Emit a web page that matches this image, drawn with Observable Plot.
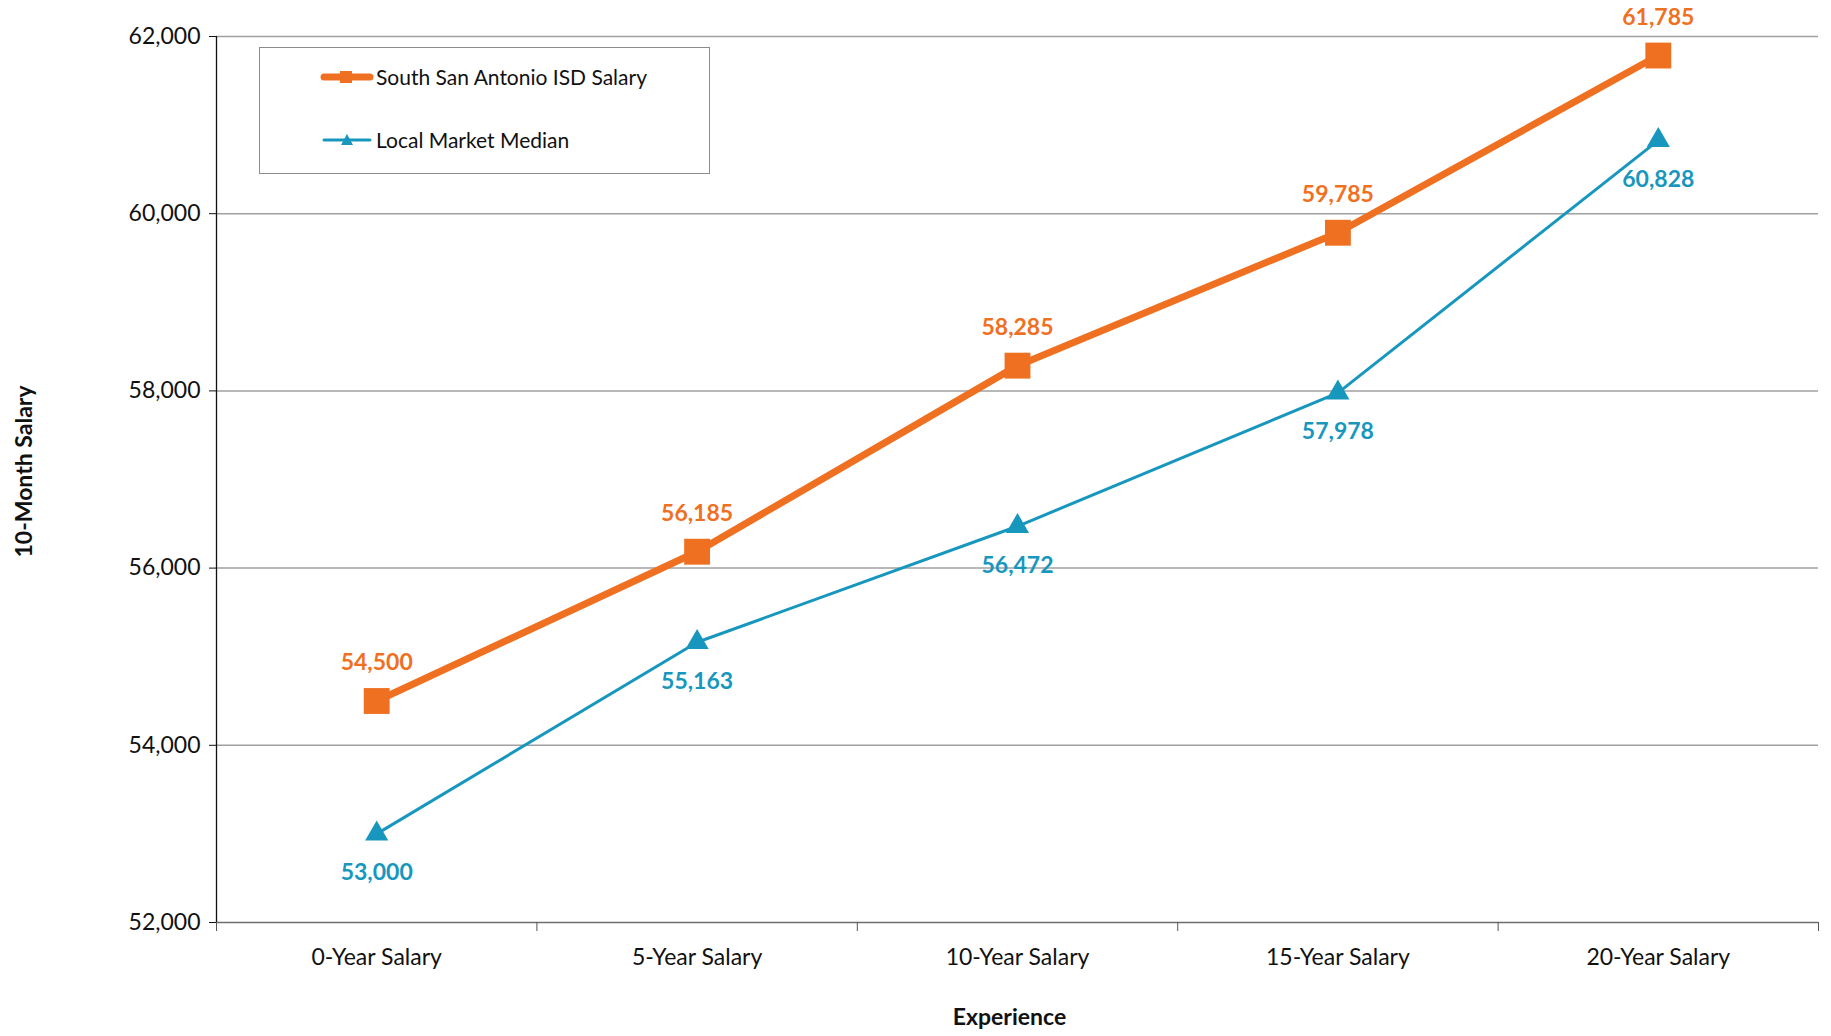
<!DOCTYPE html>
<html>
<head>
<meta charset="utf-8">
<script src="https://cdn.jsdelivr.net/npm/d3@7"></script>
<script src="https://cdn.jsdelivr.net/npm/@observablehq/plot@0.6"></script>
<style>
  html, body { margin: 0; padding: 0; background: #fff; }
  #wrap { position: relative; width: 1831px; height: 1036px; font-family: Lato, "Open Sans", sans-serif; }
  #legend { position: absolute; left: 259px; top: 47px; width: 449px; height: 125px; border: 1.5px solid #8c8c8c; background: #fff; }
  .item { position: absolute; left: 60px; display: flex; align-items: center; font-size: 21px; color: #111; }
  .item svg { margin-right: 2px; }
</style>
</head>
<body>
<div id="wrap"></div>
<script>
const categories = ["0-Year Salary", "5-Year Salary", "10-Year Salary", "15-Year Salary", "20-Year Salary"];
const ssaSalary = [54500, 56185, 58285, 59785, 61785];
const marketMedian = [53000, 55163, 56472, 57978, 60828];
const yTicks = [52000, 54000, 56000, 58000, 60000, 62000];
const seriesNames = ["South San Antonio ISD Salary", "Local Market Median"];
const orange = "#F07022";
const blue = "#1897BE";

const ssa = categories.map((c, i) => ({i, c, v: ssaSalary[i]}));
const mkt = categories.map((c, i) => ({i, c, v: marketMedian[i]}));
const fmt = d3.format(",");
const idx = categories.map((c, i) => i);
const bounds = d3.range(categories.length + 1).map(i => i - 0.5);

const chart = Plot.plot({
  width: 1831,
  height: 1036,
  marginLeft: 216,
  marginRight: 13,
  marginTop: 36,
  marginBottom: 114,
  style: {fontFamily: "Lato, 'Open Sans', sans-serif", background: "#fff", color: "#111"},
  x: {type: "linear", domain: [-0.5, categories.length - 0.5]},
  y: {domain: [52000, 62000]},
  marks: [
    Plot.ruleY(yTicks.slice(1), {stroke: "#a0a0a0", strokeWidth: 1.5}),
    Plot.ruleY([52000], {stroke: "#6e6e6e", strokeWidth: 1.5}),
    Plot.ruleX([-0.5], {stroke: "#111", strokeWidth: 1.3}),
    Plot.axisY({ticks: yTicks, tickFormat: fmt, tickSize: 7, tickPadding: 9, fontSize: 23,
      label: "10-Month Salary", labelAnchor: "center", labelArrow: "none", labelOffset: 201}),
    Plot.axisX({ticks: bounds, tickFormat: () => "", tickSize: 9, stroke: "#555", label: null}),
    Plot.axisX({ticks: idx, tickFormat: i => categories[i], tickSize: 0, tickPadding: 26, fontSize: 23,
      label: "Experience", labelAnchor: "center", labelArrow: "none", labelOffset: 102}),
    Plot.line(mkt, {x: "i", y: "v", stroke: blue, strokeWidth: 3}),
    Plot.line(ssa, {x: "i", y: "v", stroke: orange, strokeWidth: 7}),
    Plot.dot(mkt, {x: "i", y: "v", symbol: "triangle", r: 8.6, fill: blue}),
    Plot.dot(ssa, {x: "i", y: "v", symbol: "square", r: 14.6, fill: orange}),
    Plot.text(ssa, {x: "i", y: "v", text: d => fmt(d.v), dy: -38, fill: orange, fontSize: 23, fontWeight: "bold"}),
    Plot.text(mkt, {x: "i", y: "v", text: d => fmt(d.v), dy: 39, fill: blue, fontSize: 23, fontWeight: "bold"})
  ]
});
chart.querySelectorAll("[aria-label='y-axis label'] text").forEach(t => {
  t.setAttribute("font-weight", "bold");
  t.setAttribute("font-size", "23");
  t.setAttribute("dx", "8");
});
chart.querySelectorAll("[aria-label='x-axis label'] text").forEach(t => {
  t.setAttribute("font-weight", "bold");
  t.setAttribute("font-size", "23");
  t.setAttribute("dx", "-8");
});
document.getElementById("wrap").appendChild(chart);

const legend = document.createElement("div");
legend.id = "legend";
legend.innerHTML = `
  <div class="item" style="top:16px">
    <svg width="54" height="16"><line x1="4" y1="8" x2="50" y2="8" stroke="${orange}" stroke-width="7" stroke-linecap="round"/><rect x="20" y="2" width="12" height="12" fill="${orange}"/></svg>
    <span>${seriesNames[0]}</span></div>
  <div class="item" style="top:79px">
    <svg width="54" height="16"><line x1="4" y1="8" x2="50" y2="8" stroke="${blue}" stroke-width="3" stroke-linecap="round"/><path d="M27 2 L33 13 L21 13 Z" fill="${blue}"/></svg>
    <span>${seriesNames[1]}</span></div>`;
document.getElementById("wrap").appendChild(legend);
</script>
</body>
</html>
